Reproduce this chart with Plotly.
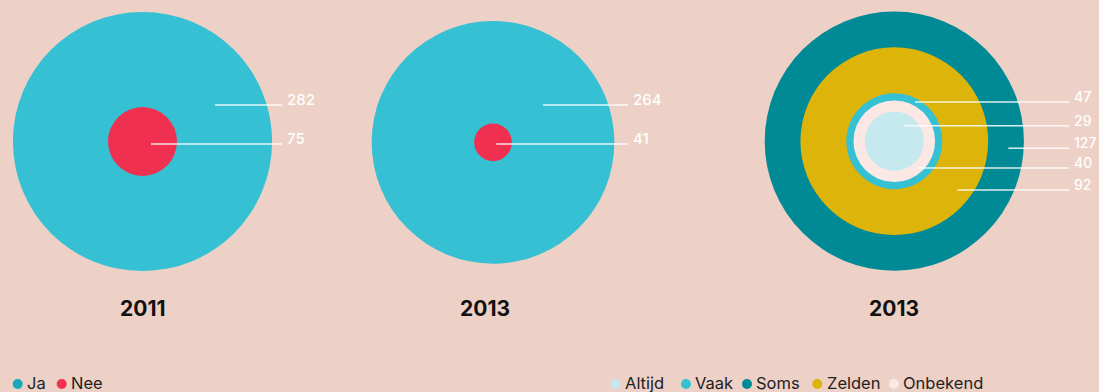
import plotly.graph_objects as go

# ---- data -------------------------------------------------------------
years = ["2011", "2013", "2013"]

jn_labels = ["Ja", "Nee"]
jn_2011 = [282, 75]
jn_2013 = [264, 41]

freq_labels = ["Altijd", "Vaak", "Soms", "Zelden", "Onbekend"]
freq_2013 = [29, 47, 127, 92, 40]

# ---- styling ----------------------------------------------------------
W, H = 1099, 392
BG = "#EDD0C6"
FONT = "Inter"
jn_colors = {"Ja": "#35C0D3", "Nee": "#EF3050"}
jn_legend_colors = {"Ja": "#16A8BC", "Nee": "#EF3050"}
freq_colors = {
    "Altijd": "#C6E9EF",
    "Vaak": "#35C0D3",
    "Soms": "#008A96",
    "Zelden": "#DDB40A",
    "Onbekend": "#FBE8E4",
}
R_MAX = 129.6  # radius (px) of the largest circle in each panel

centers = [(142.5, 141.5), (493.0, 142.3), (894.3, 141.2)]
title_x = [143, 485, 894]
title_y = 308

# leader rows per panel: (category, row y, line start dx from centre)
rows = [
    [("Ja", 105, 72.5), ("Nee", 144, 8.5)],
    [("Ja", 105, 50.0), ("Nee", 144, 3.3)],
    [("Vaak", 102, 20.7), ("Altijd", 125.7, 10.0), ("Soms", 148.3, 114.0),
     ("Onbekend", 168, 24.0), ("Zelden", 190, 63.0)],
]
line_end = [282, 628, 1069]
label_font = [15, 15, 14]

panels = [
    (dict(zip(jn_labels, jn_2011)), jn_colors),
    (dict(zip(jn_labels, jn_2013)), jn_colors),
    (dict(zip(freq_labels, freq_2013)), freq_colors),
]
# the two Ja/Nee panels share one scale so they stay comparable
scales = [R_MAX / max(jn_2011), R_MAX / max(jn_2011), R_MAX / max(freq_2013)]

fig = go.Figure()
annotations = []

for i, ((values, colors), (cx, cy), k) in enumerate(zip(panels, centers, scales)):
    # nested circles, largest first; diameter in px = 2 * value * scale
    for cat in sorted(values, key=values.get, reverse=True):
        fig.add_trace(go.Scatter(
            x=[cx], y=[cy], mode="markers", showlegend=False, hoverinfo="skip",
            marker=dict(size=2 * values[cat] * k, color=colors[cat],
                        line=dict(width=0), opacity=1),
        ))
    # leader lines with value labels
    for cat, ry, dx in rows[i]:
        fig.add_trace(go.Scatter(
            x=[cx + dx, line_end[i]], y=[ry, ry], mode="lines",
            showlegend=False, hoverinfo="skip",
            line=dict(color="rgba(255,255,255,0.85)", width=1.6),
        ))
        annotations.append(dict(
            x=line_end[i] + 3, y=ry - 5.5, xref="x", yref="y",
            text=str(values[cat]), showarrow=False, xanchor="left", yanchor="middle",
            font=dict(family=FONT, size=label_font[i], color="#FFFFFF", weight=500),
        ))
    annotations.append(dict(
        x=title_x[i], y=title_y, xref="x", yref="y", text=f"<b>{years[i]}</b>",
        showarrow=False, xanchor="center", yanchor="middle",
        font=dict(family=FONT, size=21, color="#111111"),
    ))

# ---- legends ----------------------------------------------------------
legend_y = 382.5
legend_groups = [
    (jn_labels, jn_legend_colors, [17.7, 61.7], [24.5, 69.0]),
    (freq_labels, freq_colors, [615.7, 686.0, 747.0, 817.3, 894.0],
     [623.0, 693.0, 753.7, 824.7, 901.0]),
]
for labels, colors, dot_x, text_x in legend_groups:
    fig.add_trace(go.Scatter(
        x=dot_x, y=[legend_y + 1.5] * len(labels), mode="markers", showlegend=False,
        hoverinfo="skip",
        marker=dict(size=10, color=[colors[c] for c in labels], line=dict(width=0)),
    ))
    for lab, tx in zip(labels, text_x):
        annotations.append(dict(
            x=tx, y=legend_y, xref="x", yref="y", text=lab, showarrow=False,
            xanchor="left", yanchor="middle",
            font=dict(family=FONT, size=16.5, color="#222222"),
        ))

fig.update_layout(
    width=W, height=H, autosize=False,
    margin=dict(l=0, r=0, t=0, b=0),
    paper_bgcolor=BG, plot_bgcolor=BG,
    xaxis=dict(range=[0, W], visible=False, fixedrange=True),
    yaxis=dict(range=[H, 0], visible=False, fixedrange=True),
    annotations=annotations,
    showlegend=False,
)

fig.write_html("out.html", config={"displayModeBar": False})
